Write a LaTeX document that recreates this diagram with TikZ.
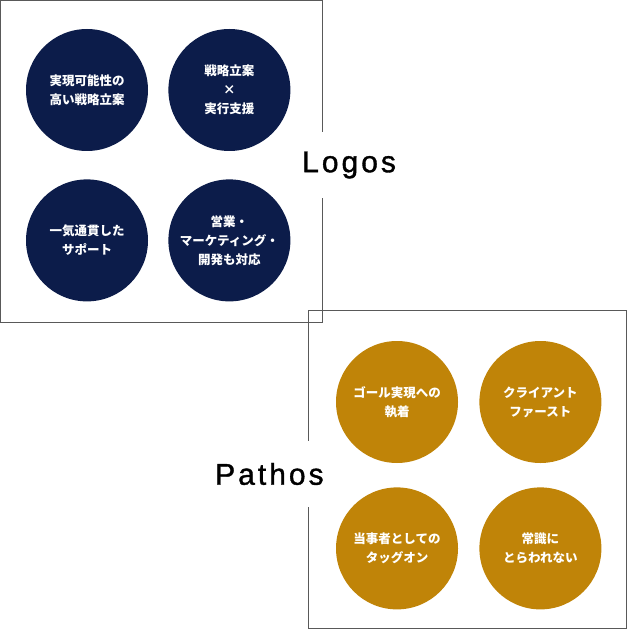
\documentclass[tikz,border=0pt]{standalone}
\usepackage{fontspec}
\setmainfont{Liberation Sans}
\newfontfamily\jpfont{Noto Sans CJK JP}
\newfontfamily\titlefont[LetterSpace=10,FakeBold=1.2]{Liberation Sans}
\usetikzlibrary{positioning}
\definecolor{logosnavy}{HTML}{0C1C4A}
\definecolor{pathosgold}{HTML}{C08408}

\begin{document}
\begin{tikzpicture}[x=1pt,y=-1pt,node distance=28pt and 20pt]
  \tikzstyle{dot}=[circle,minimum size=122pt,inner sep=0pt,align=center,text=white,font=\jpfont\bfseries\fontsize{12.5}{19}\selectfont]
  \tikzstyle{frame}=[draw=black!65,line width=1pt]
  \tikzstyle{title}=[fill=white,inner sep=0pt,anchor=west,minimum height=66pt,text=black,font=\titlefont\fontsize{30}{30}\selectfont]
  \useasboundingbox (0,0) rectangle (627,636);
  % Logos -- navy circles
  \node[dot,fill=logosnavy] (l1) at (87,90) {実現可能性の\\高い戦略立案};
  \node[dot,fill=logosnavy,right=of l1] (l2) {戦略立案\\×\\実行支援};
  \node[dot,fill=logosnavy,below=of l1] (l3) {一気通貫した\\サポート};
  \node[dot,fill=logosnavy,right=of l3] (l4) {営業・\\マーケティング・\\開発も対応};
  \draw[frame] (0.5,0.5) rectangle (322,322);
  % Pathos -- gold circles
  \node[dot,fill=pathosgold] (p1) at (397,402) {ゴール実現への\\執着};
  \node[dot,fill=pathosgold,right=21pt of p1] (p2) {クライアント\\ファースト};
  \node[dot,fill=pathosgold,below=24pt of p1] (p3) {当事者としての\\タッグオン};
  \node[dot,fill=pathosgold,right=21pt of p3] (p4) {常識に\\とらわれない};
  \draw[frame] (308,310) rectangle (626,628);
  % titles (white box cuts the frame)
  \node[title] (logos) at (302,165) {Logos};
  \node[title] (pathos) at (215,474) {Pathos};
\end{tikzpicture}
\end{document}
